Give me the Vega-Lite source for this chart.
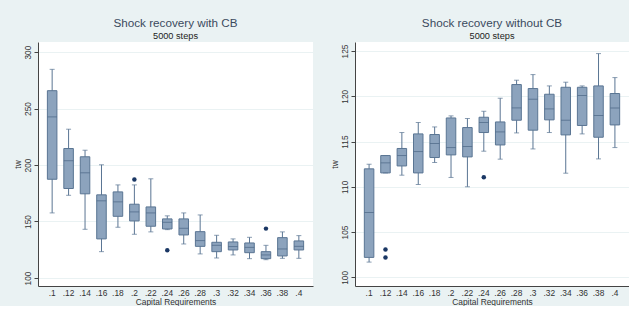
{
  "$schema": "https://vega.github.io/schema/vega-lite/v6.json",
  "background": "#eaf2f3",
  "padding": {"left": 12, "top": 18, "right": 0, "bottom": 0},
  "bounds": "flush",
  "spacing": 42,
  "datasets": {
    "withcb": [
      {"cr": ".1", "lo": 157.6, "q1": 187.4, "med": 242.6, "q3": 265.8, "hi": 284.7},
      {"cr": ".12", "lo": 173.2, "q1": 179.2, "med": 203.8, "q3": 214.6, "hi": 231.7},
      {"cr": ".14", "lo": 143.1, "q1": 174.5, "med": 193.1, "q3": 207.3, "hi": 213.1},
      {"cr": ".16", "lo": 123.3, "q1": 134.6, "med": 168.3, "q3": 173.6, "hi": 200.2},
      {"cr": ".18", "lo": 144.9, "q1": 154.6, "med": 167.4, "q3": 176.2, "hi": 182.4},
      {"cr": ".2", "lo": 138.7, "q1": 150.5, "med": 158.5, "q3": 165.3, "hi": 182.4},
      {"cr": ".22", "lo": 140.8, "q1": 145.8, "med": 157.6, "q3": 162.9, "hi": 187.8},
      {"cr": ".24", "lo": 142.8, "q1": 143.4, "med": 149.3, "q3": 152.3, "hi": 155.0},
      {"cr": ".26", "lo": 130.1, "q1": 138.1, "med": 144.0, "q3": 152.3, "hi": 157.6},
      {"cr": ".28", "lo": 121.3, "q1": 128.0, "med": 133.1, "q3": 141.0, "hi": 155.8},
      {"cr": ".3", "lo": 117.7, "q1": 123.3, "med": 128.9, "q3": 131.6, "hi": 137.8},
      {"cr": ".32", "lo": 120.4, "q1": 124.8, "med": 127.8, "q3": 131.9, "hi": 134.6},
      {"cr": ".34", "lo": 117.1, "q1": 122.4, "med": 127.1, "q3": 131.0, "hi": 136.0},
      {"cr": ".36", "lo": 116.2, "q1": 117.1, "med": 120.4, "q3": 123.3, "hi": 128.9},
      {"cr": ".38", "lo": 117.4, "q1": 119.5, "med": 125.7, "q3": 135.7, "hi": 140.8},
      {"cr": ".4", "lo": 117.4, "q1": 124.8, "med": 128.0, "q3": 132.8, "hi": 137.5}
    ],
    "withcb_out": [
      {"cr": ".2", "v": 187.1},
      {"cr": ".24", "v": 124.5},
      {"cr": ".36", "v": 143.7}
    ],
    "nocb": [
      {"cr": ".1", "lo": 101.68, "q1": 102.2, "med": 107.16, "q3": 111.98, "hi": 112.49},
      {"cr": ".12", "lo": 111.53, "q1": 111.53, "med": 112.64, "q3": 113.45, "hi": 113.45},
      {"cr": ".14", "lo": 111.28, "q1": 112.3, "med": 113.45, "q3": 114.23, "hi": 115.99},
      {"cr": ".16", "lo": 110.25, "q1": 111.53, "med": 113.89, "q3": 115.84, "hi": 117.1},
      {"cr": ".18", "lo": 112.68, "q1": 113.23, "med": 114.78, "q3": 115.77, "hi": 116.61},
      {"cr": ".2", "lo": 111.03, "q1": 113.52, "med": 114.33, "q3": 117.6, "hi": 117.83},
      {"cr": ".22", "lo": 110.0, "q1": 113.3, "med": 114.45, "q3": 116.54, "hi": 117.54},
      {"cr": ".24", "lo": 113.93, "q1": 115.99, "med": 117.1, "q3": 117.68, "hi": 118.34},
      {"cr": ".26", "lo": 113.05, "q1": 114.62, "med": 116.06, "q3": 117.16, "hi": 119.78},
      {"cr": ".28", "lo": 115.95, "q1": 117.35, "med": 118.71, "q3": 121.29, "hi": 121.77},
      {"cr": ".3", "lo": 114.18, "q1": 116.25, "med": 119.67, "q3": 120.85, "hi": 122.39},
      {"cr": ".32", "lo": 115.99, "q1": 117.39, "med": 118.6, "q3": 120.22, "hi": 121.14},
      {"cr": ".34", "lo": 111.5, "q1": 115.73, "med": 117.35, "q3": 120.99, "hi": 121.55},
      {"cr": ".36", "lo": 115.84, "q1": 116.77, "med": 120.08, "q3": 120.99, "hi": 121.14},
      {"cr": ".38", "lo": 113.08, "q1": 115.47, "med": 117.87, "q3": 121.14, "hi": 124.71},
      {"cr": ".4", "lo": 114.33, "q1": 116.83, "med": 118.71, "q3": 120.3, "hi": 122.06}
    ],
    "nocb_out": [
      {"cr": ".12", "v": 103.08},
      {"cr": ".12", "v": 102.2},
      {"cr": ".24", "v": 111.06}
    ]
  },
  "hconcat": [
    {
      "width": 275,
      "height": 244,
      "title": {"text": "Shock recovery with CB", "subtitle": "5000 steps"},
      "data": {"name": "withcb"},
      "encoding": {
        "x": {"field": "cr", "type": "ordinal", "sort": null,
              "scale": {"domain": [".1", ".12", ".14", ".16", ".18", ".2", ".22", ".24", ".26", ".28", ".3", ".32", ".34", ".36", ".38", ".4"], "paddingInner": 0.42, "paddingOuter": 0.57},
              "axis": {"title": "Capital Requirements"}}
      },
      "layer": [
        {"mark": {"type": "rule", "color": "#5a7593", "strokeWidth": 1},
         "encoding": {"y": {"field": "lo", "type": "quantitative", "scale": {"domain": [92.9, 308.9], "nice": false, "zero": false}, "axis": {"title": "tw", "values": [100, 150, 200, 250, 300]}}, "y2": {"field": "hi"}}},
        {"mark": {"type": "bar", "fill": "#8ca3bd", "stroke": "#5a7593", "strokeWidth": 1},
         "encoding": {"y": {"field": "q1", "type": "quantitative"}, "y2": {"field": "q3"}}},
        {"mark": {"type": "tick", "color": "#4a6585", "size": 9.5, "thickness": 1},
         "encoding": {"y": {"field": "med", "type": "quantitative"}}},
        {"mark": {"type": "tick", "color": "#5a7593", "size": 5, "thickness": 1},
         "encoding": {"y": {"field": "hi", "type": "quantitative"}}},
        {"mark": {"type": "tick", "color": "#5a7593", "size": 5, "thickness": 1},
         "encoding": {"y": {"field": "lo", "type": "quantitative"}}},
        {"data": {"name": "withcb_out"},
         "mark": {"type": "point", "filled": true, "color": "#1a3764", "size": 20, "opacity": 1},
         "encoding": {"y": {"field": "v", "type": "quantitative"}}}
      ]
    },
    {
      "width": 274,
      "height": 244,
      "title": {"text": "Shock recovery without CB", "subtitle": "5000 steps"},
      "data": {"name": "nocb"},
      "encoding": {
        "x": {"field": "cr", "type": "ordinal", "sort": null,
              "scale": {"domain": [".1", ".12", ".14", ".16", ".18", ".2", ".22", ".24", ".26", ".28", ".3", ".32", ".34", ".36", ".38", ".4"], "paddingInner": 0.42, "paddingOuter": 0.57},
              "axis": {"title": "Capital Requirements"}}
      },
      "layer": [
        {"mark": {"type": "rule", "color": "#5a7593", "strokeWidth": 1},
         "encoding": {"y": {"field": "lo", "type": "quantitative", "scale": {"domain": [99.04, 125.99], "nice": false, "zero": false}, "axis": {"title": "tw", "values": [100, 105, 110, 115, 120, 125]}}, "y2": {"field": "hi"}}},
        {"mark": {"type": "bar", "fill": "#8ca3bd", "stroke": "#5a7593", "strokeWidth": 1},
         "encoding": {"y": {"field": "q1", "type": "quantitative"}, "y2": {"field": "q3"}}},
        {"mark": {"type": "tick", "color": "#4a6585", "size": 9.5, "thickness": 1},
         "encoding": {"y": {"field": "med", "type": "quantitative"}}},
        {"mark": {"type": "tick", "color": "#5a7593", "size": 5, "thickness": 1},
         "encoding": {"y": {"field": "hi", "type": "quantitative"}}},
        {"mark": {"type": "tick", "color": "#5a7593", "size": 5, "thickness": 1},
         "encoding": {"y": {"field": "lo", "type": "quantitative"}}},
        {"data": {"name": "nocb_out"},
         "mark": {"type": "point", "filled": true, "color": "#1a3764", "size": 20, "opacity": 1},
         "encoding": {"y": {"field": "v", "type": "quantitative"}}}
      ]
    }
  ],
  "resolve": {"scale": {"y": "independent"}},
  "config": {
    "font": "Liberation Sans",
    "view": {"fill": "white", "stroke": null},
    "title": {"fontSize": 11.7, "fontWeight": "normal", "color": "#3b4a5e", "subtitleFontSize": 9.2, "subtitleColor": "#222222", "subtitlePadding": 2, "anchor": "middle", "offset": 1},
    "axisX": {"labelAngle": 0, "ticks": false, "tickSize": 0, "domainColor": "#444444", "labelFontSize": 8.4, "labelColor": "#333333", "titleFontSize": 8.4, "titleFontWeight": "normal", "titleColor": "#333333", "labelPadding": 2, "titlePadding": 1, "grid": false},
    "axisY": {"labelAngle": 270, "labelAlign": "center", "labelBaseline": "bottom", "grid": true, "gridColor": "#eaf2f3", "tickSize": 4, "tickColor": "#444444", "domainColor": "#444444", "labelFontSize": 8.4, "labelColor": "#333333", "labelPadding": 2, "titleFontSize": 8.4, "titleFontWeight": "normal", "titleColor": "#333333", "titlePadding": 1}
  }
}
